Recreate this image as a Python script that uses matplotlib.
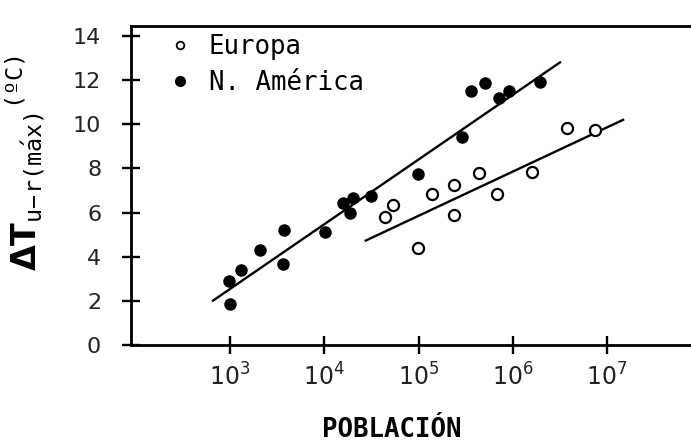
import matplotlib
matplotlib.use("Agg")
import matplotlib.pyplot as plt
from matplotlib.lines import Line2D
import numpy as np

# values (population on a log axis, delta T in ºC)
europa_pop = [10**4.64, 10**4.73, 10**4.99, 10**5.14, 10**5.38, 10**5.38,
              10**5.64, 10**5.83, 10**6.20, 10**6.57, 10**6.87]
europa_dt = [5.79, 6.32, 4.40, 6.85, 7.27, 5.91, 7.80, 6.82, 7.83, 9.85, 9.73]

namerica_pop = [10**3.00, 10**2.99, 10**3.12, 10**3.32, 10**3.57, 10**3.56,
                10**4.01, 10**4.20, 10**4.31, 10**4.27, 10**4.50, 10**4.99,
                10**5.46, 10**5.56, 10**5.71, 10**5.85, 10**5.96, 10**6.29]
namerica_dt = [1.86, 2.88, 3.41, 4.32, 5.20, 3.68, 5.10, 6.44, 6.67, 5.99,
               6.74, 7.73, 9.44, 11.49, 11.85, 11.21, 11.51, 11.90]

# end points of the two fitted lines
europa_fit_pop = [10**4.44, 10**7.17]
europa_fit_dt = [4.73, 10.20]
namerica_fit_pop = [10**2.82, 10**6.50]
namerica_fit_dt = [2.01, 12.80]

xticks = [1e3, 1e4, 1e5, 1e6, 1e7]
xticklabels = [r"$10^{3}$", r"$10^{4}$", r"$10^{5}$", r"$10^{6}$", r"$10^{7}$"]
yticks = [0, 2, 4, 6, 8, 10, 12, 14]

fig = plt.figure(figsize=(6.91, 4.44), dpi=100)
ax = fig.add_axes([131 / 691, 1 - 345 / 444, 560 / 691, 319 / 444])

ax.plot(namerica_fit_pop, namerica_fit_dt, color="black", lw=1.7)
ax.plot(europa_fit_pop, europa_fit_dt, color="black", lw=1.7)
ax.plot(namerica_pop, namerica_dt, "o", color="black", ms=9, mew=0)
ax.plot(europa_pop, europa_dt, "o", mfc="white", mec="black", ms=8, mew=1.6)

ax.set_xscale("log")
ax.set_xlim(10**1.95, 10**7.89)
ax.set_ylim(0, 14.45)
ax.set_xticks(xticks)
ax.set_xticklabels(xticklabels)
ax.xaxis.set_minor_locator(matplotlib.ticker.NullLocator())
ax.set_yticks(yticks)

for s in ["left", "bottom", "top"]:
    ax.spines[s].set_linewidth(2.0)
ax.spines["right"].set_visible(False)

ax.tick_params(axis="both", direction="inout", length=13, width=1.7,
               labelsize=16, labelcolor="#222222")
ax.tick_params(axis="y", pad=15)
ax.tick_params(axis="x", pad=7, labelsize=17)

ax.set_xlabel("POBLACIÓN", family="DejaVu Sans Mono", weight="bold", fontsize=18.5)
ax.xaxis.set_label_coords(0.466, -0.225)
ax.set_ylabel(r"$\mathbf{\Delta T}_{\mathtt{u{-}r(m\acute{a}x)}}{}^{\mathtt{(ºC)}}$",
              fontsize=24)
ax.yaxis.set_label_coords(-0.15, 0.57)

handles = [
    Line2D([], [], ls="none", marker="o", mfc="white", mec="black", ms=5.5, mew=1.3),
    Line2D([], [], ls="none", marker="o", color="black", ms=7),
]
ax.legend(handles, ["Europa", "N. América"], loc="upper left",
          bbox_to_anchor=(0.065, 0.975), frameon=False, borderpad=0,
          borderaxespad=0, handlelength=1.0, handletextpad=0.6,
          labelspacing=0.4, prop={"family": "DejaVu Sans Mono", "size": 18.5})

fig.savefig("out.png", dpi=100)
